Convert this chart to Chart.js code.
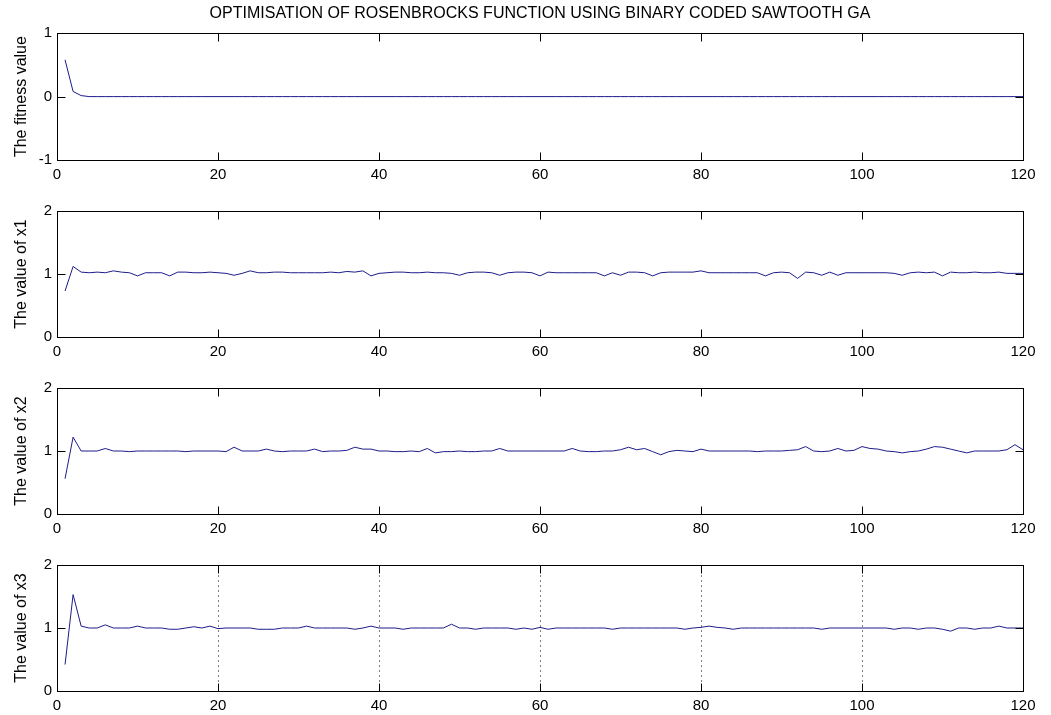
<!DOCTYPE html>
<html>
<head>
<meta charset="utf-8">
<script src="https://cdn.jsdelivr.net/npm/chart.js@4.4.1/dist/chart.umd.min.js"></script>
<style>
    body { margin: 0; background: #ffffff; }
    .panel { position: absolute; left: 0; width: 1051px; }
</style>
</head>
<body>
<div class="panel" style="top:0px"><canvas id="fitChart" width="1051" height="190"></canvas></div>
<div class="panel" style="top:197px"><canvas id="x1Chart" width="1051" height="170"></canvas></div>
<div class="panel" style="top:374px"><canvas id="x2Chart" width="1051" height="170"></canvas></div>
<div class="panel" style="top:551px"><canvas id="x3Chart" width="1051" height="170"></canvas></div>
<script>
// ===== DATA =====
const TITLE = "OPTIMISATION OF ROSENBROCKS FUNCTION USING BINARY CODED SAWTOOTH GA";
const xTicks = [0, 20, 40, 60, 80, 100, 120];
const fitTicks = [-1, 0, 1];
const varTicks = [0, 1, 2];

const fitness = [
    0.58, 0.08, 0.016, 0, 0, 0, 0, 0, 0, 0,
    0, 0, 0, 0, 0, 0, 0, 0, 0, 0,
    0, 0, 0, 0, 0, 0, 0, 0, 0, 0,
    0, 0, 0, 0, 0, 0, 0, 0, 0, 0,
    0, 0, 0, 0, 0, 0, 0, 0, 0, 0,
    0, 0, 0, 0, 0, 0, 0, 0, 0, 0,
    0, 0, 0, 0, 0, 0, 0, 0, 0, 0,
    0, 0, 0, 0, 0, 0, 0, 0, 0, 0,
    0, 0, 0, 0, 0, 0, 0, 0, 0, 0,
    0, 0, 0, 0, 0, 0, 0, 0, 0, 0,
    0, 0, 0, 0, 0, 0, 0, 0, 0, 0,
    0, 0, 0, 0, 0, 0, 0, 0, 0, 0
];

const x1 = [
    0.73, 1.12, 1.03, 1.02, 1.03, 1.02, 1.05, 1.03, 1.02, 0.97,
    1.02, 1.02, 1.02, 0.97, 1.03, 1.03, 1.02, 1.02, 1.03, 1.02,
    1.01, 0.98, 1.01, 1.05, 1.02, 1.02, 1.03, 1.03, 1.02, 1.02,
    1.02, 1.02, 1.02, 1.03, 1.02, 1.04, 1.03, 1.05, 0.97, 1.01,
    1.02, 1.03, 1.03, 1.02, 1.02, 1.03, 1.02, 1.02, 1.01, 0.98,
    1.02, 1.03, 1.03, 1.02, 0.98, 1.02, 1.03, 1.03, 1.02, 0.97,
    1.03, 1.02, 1.02, 1.02, 1.02, 1.02, 1.02, 0.97, 1.02, 0.98,
    1.03, 1.03, 1.02, 0.97, 1.02, 1.03, 1.03, 1.03, 1.03, 1.05,
    1.02, 1.02, 1.02, 1.02, 1.02, 1.02, 1.02, 0.97, 1.02, 1.03,
    1.02, 0.93, 1.03, 1.02, 0.98, 1.03, 0.98, 1.02, 1.02, 1.02,
    1.02, 1.02, 1.02, 1.01, 0.98, 1.02, 1.03, 1.02, 1.03, 0.97,
    1.03, 1.02, 1.02, 1.03, 1.02, 1.02, 1.03, 1.01, 1.01, 1.01
];

const x2 = [
    0.56, 1.22, 1.00, 1.00, 1.00, 1.04, 1.00, 1.00, 0.99, 1.00,
    1.00, 1.00, 1.00, 1.00, 1.00, 0.99, 1.00, 1.00, 1.00, 1.00,
    0.99, 1.06, 1.00, 1.00, 1.00, 1.03, 1.00, 0.99, 1.00, 1.00,
    1.00, 1.03, 0.99, 1.00, 1.00, 1.01, 1.06, 1.03, 1.03, 1.00,
    1.00, 0.99, 0.99, 1.00, 0.99, 1.04, 0.97, 0.99, 0.99, 1.00,
    0.99, 0.99, 1.00, 1.00, 1.04, 1.00, 1.00, 1.00, 1.00, 1.00,
    1.00, 1.00, 1.00, 1.04, 1.00, 0.99, 0.99, 1.00, 1.00, 1.02,
    1.06, 1.02, 1.04, 0.99, 0.94, 0.99, 1.01, 1.00, 0.99, 1.03,
    1.00, 1.00, 1.00, 1.00, 1.00, 1.00, 0.99, 1.00, 1.00, 1.00,
    1.01, 1.02, 1.07, 1.00, 0.99, 1.00, 1.04, 1.00, 1.01, 1.07,
    1.04, 1.03, 1.00, 0.99, 0.97, 0.99, 1.00, 1.03, 1.07, 1.06,
    1.03, 1.00, 0.97, 1.00, 1.00, 1.00, 1.00, 1.02, 1.10, 1.02
];

const x3 = [
    0.42, 1.53, 1.03, 1.00, 1.00, 1.05, 1.00, 1.00, 1.00, 1.03,
    1.00, 1.00, 1.00, 0.98, 0.98, 1.00, 1.02, 1.00, 1.03, 0.99,
    1.00, 1.00, 1.00, 1.00, 0.98, 0.98, 0.98, 1.00, 1.00, 1.00,
    1.03, 1.00, 1.00, 1.00, 1.00, 1.00, 0.98, 1.00, 1.03, 1.00,
    1.00, 1.00, 0.98, 1.00, 1.00, 1.00, 1.00, 1.00, 1.06, 1.00,
    1.00, 0.98, 1.00, 1.00, 1.00, 1.00, 0.98, 1.00, 0.98, 1.01,
    0.98, 1.00, 1.00, 1.00, 1.00, 1.00, 1.00, 1.00, 0.98, 1.00,
    1.00, 1.00, 1.00, 1.00, 1.00, 1.00, 1.00, 0.98, 1.00, 1.01,
    1.03, 1.01, 1.00, 0.98, 1.00, 1.00, 1.00, 1.00, 1.00, 1.00,
    1.00, 1.00, 1.00, 1.00, 0.98, 1.00, 1.00, 1.00, 1.00, 1.00,
    1.00, 1.00, 1.00, 0.98, 1.00, 1.00, 0.98, 1.00, 1.00, 0.98,
    0.95, 1.00, 1.00, 0.98, 1.00, 1.00, 1.03, 1.00, 1.00, 1.00
];

const LINE_COLOR = "#1c1c8a";
const FONT = "'Liberation Sans', Arial, sans-serif";

// ===== MATLAB STYLE AXES (box, inward ticks, dotted grid) =====
const matlabAxes = {
    id: "matlabAxes",
    afterDraw(chart, args, opts) {
        const { ctx, chartArea: a } = chart;
        const xs = chart.scales.x;
        const ys = chart.scales.y;
        const L = Math.round(a.left) + 0.5, R = Math.round(a.right) + 0.5;
        const T = Math.round(a.top) + 0.5, B = Math.round(a.bottom) + 0.5;
        const tick = 8;

        ctx.save();
        ctx.strokeStyle = "#000000";
        ctx.lineWidth = 1;

        if (opts.grid) {
            ctx.setLineDash([1, 4]);
            xTicks.slice(1, -1).forEach(v => {
                const px = Math.round(xs.getPixelForValue(v)) + 0.5;
                ctx.beginPath();
                ctx.moveTo(px, T);
                ctx.lineTo(px, B);
                ctx.stroke();
            });
            ctx.setLineDash([]);
        }

        ctx.strokeRect(L, T, R - L, B - T);

        ctx.beginPath();
        xTicks.forEach(v => {
            const px = Math.round(xs.getPixelForValue(v)) + 0.5;
            ctx.moveTo(px, B); ctx.lineTo(px, B - tick);
            ctx.moveTo(px, T); ctx.lineTo(px, T + tick);
        });
        opts.yTicks.forEach(v => {
            const py = Math.round(ys.getPixelForValue(v)) + 0.5;
            ctx.moveTo(L, py); ctx.lineTo(L + tick, py);
            ctx.moveTo(R, py); ctx.lineTo(R - tick, py);
        });
        ctx.stroke();
        ctx.restore();
    }
};

// ===== BUILD ONE PANEL =====
function makePanel(id, values, yLabel, yTicks, grid, title) {
    const points = values.map((v, i) => ({ x: i + 1, y: v }));

    return new Chart(document.getElementById(id), {
        type: "line",
        data: {
            datasets: [{
                data: points,
                borderColor: LINE_COLOR,
                borderWidth: 1,
                pointRadius: 0,
                tension: 0
            }]
        },
        plugins: [matlabAxes],
        options: {
            responsive: false,
            animation: false,
            events: [],
            layout: { padding: { top: title ? 0 : 13, right: 28, left: 0, bottom: 0 } },
            plugins: {
                legend: { display: false },
                tooltip: { enabled: false },
                title: {
                    display: !!title,
                    text: title || "",
                    fullSize: false,
                    color: "#000000",
                    font: { family: FONT, size: 16, weight: "normal", lineHeight: 1.2 },
                    padding: { top: 4, bottom: 10 }
                },
                matlabAxes: { yTicks: yTicks, grid: grid }
            },
            scales: {
                x: {
                    type: "linear",
                    min: xTicks[0],
                    max: xTicks[xTicks.length - 1],
                    afterBuildTicks: s => { s.ticks = xTicks.map(v => ({ value: v })); },
                    afterFit: s => { s.height = 30; },
                    grid: { display: false, drawTicks: false },
                    border: { display: false },
                    ticks: { color: "#000000", padding: 6, maxRotation: 0, font: { family: FONT, size: 15 } }
                },
                y: {
                    min: yTicks[0],
                    max: yTicks[yTicks.length - 1],
                    afterBuildTicks: s => { s.ticks = yTicks.map(v => ({ value: v })); },
                    afterFit: s => { s.width = 57; },
                    grid: { display: false, drawTicks: false },
                    border: { display: false },
                    ticks: { color: "#000000", padding: 5, font: { family: FONT, size: 15 } },
                    title: {
                        display: true,
                        text: yLabel,
                        color: "#000000",
                        font: { family: FONT, size: 16, lineHeight: 1.2 },
                        padding: { top: 12, bottom: 0 }
                    }
                }
            }
        }
    });
}

makePanel("fitChart", fitness, "The fitness value", fitTicks, false, TITLE);
makePanel("x1Chart", x1, "The value of x1", varTicks, false);
makePanel("x2Chart", x2, "The value of x2", varTicks, false);
makePanel("x3Chart", x3, "The value of x3", varTicks, true);
</script>
</body>
</html>
